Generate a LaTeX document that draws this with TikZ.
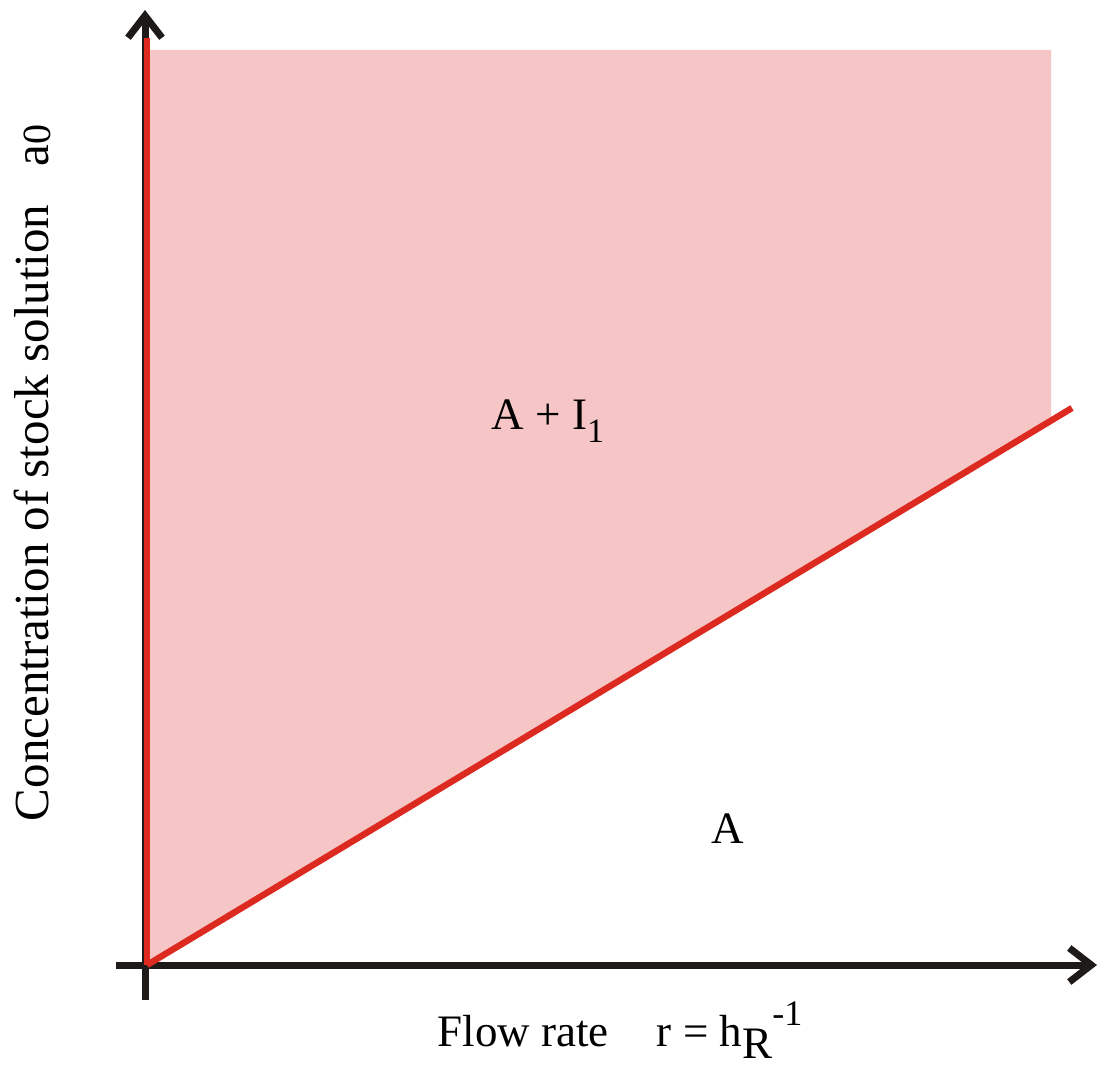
\documentclass[tikz,border=0pt]{standalone}
\usepackage{fontspec}
\setmainfont{Liberation Serif}
\usetikzlibrary{arrows.meta}
\definecolor{regionpink}{RGB}{246,198,199}
\definecolor{boundred}{RGB}{220,42,32}
\definecolor{axisblack}{RGB}{30,26,23}
\tikzstyle{axis} = [
    line width=3.5pt,
    draw=axisblack,
    -{Straight Barb[length=11pt,width=17pt]}
]
\tikzstyle{boundary} = [
    line width=3.2pt,
    draw=boundred
]
\tikzstyle{tag} = [
    inner sep=0pt,
    font=\rmfamily\fontsize{22.5}{26}\selectfont
]

\begin{document}
\begin{tikzpicture}[x=0.5pt,y=-0.5pt]
\useasboundingbox (0,0) rectangle (1098,1069);

\coordinate (origin) at (145,965);
\coordinate (ybottom) at (145,1000);
\coordinate (ytop) at (145,10);
\coordinate (xleft) at (116,965);
\coordinate (xright) at (1097,965);
\coordinate (redtop) at (147,38);
\coordinate (redorigin) at (147,965);
\coordinate (lineend) at (1072,408);

% region A + I1
\fill [regionpink] (147,965) -- (147,50) -- (1051,50) -- (1051,421) -- cycle;

% axes
\draw [axis] (ybottom) -- (ytop);
\draw [axis] (xleft) -- (xright);

% boundaries
\draw [boundary] (redorigin) -- (redtop);
\draw [boundary] (redorigin) -- (lineend);

\node (mixed) [tag] at (548,421) {A + I\raisebox{-0.3em}{\fontsize{17}{20}\selectfont 1}};
\node (pure) [tag] at (728,829) {A};

\node (xlabel) [tag, anchor=base] at (620,1046)
{Flow rate\hspace{24pt}r = h\raisebox{-0.28em}{R}\raisebox{0.45em}{\fontsize{18}{20}\selectfont -1}};

\node (ylabel) [tag, font=\rmfamily\fontsize{24.5}{28}\selectfont, rotate=90, anchor=base] at (48,473)
{Concentration of stock solution\hspace{19pt}a\raisebox{-1pt}{\fontsize{20}{22}\selectfont 0}};

\end{tikzpicture}
\end{document}
